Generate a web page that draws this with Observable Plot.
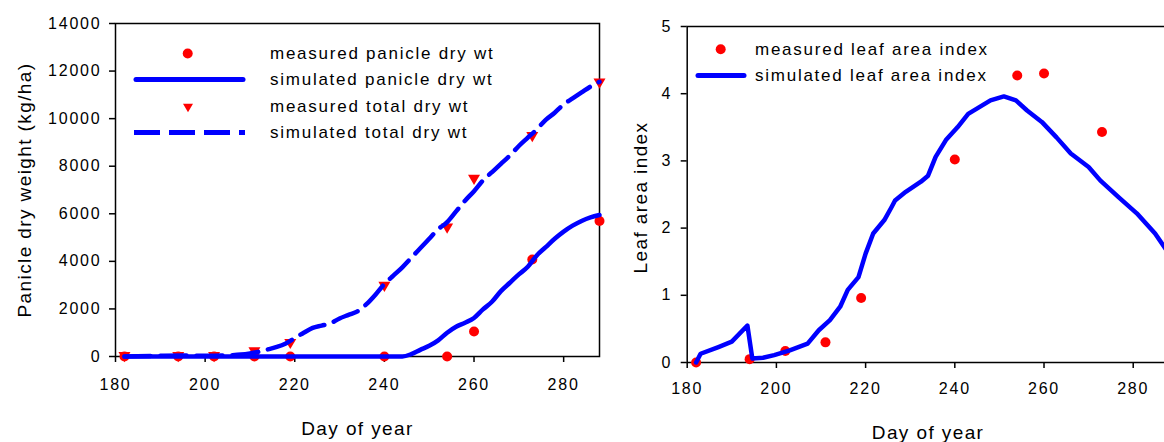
<!DOCTYPE html>
<html>
<head>
<meta charset="utf-8">
<script src="https://cdn.jsdelivr.net/npm/d3@7"></script>
<script src="https://cdn.jsdelivr.net/npm/@observablehq/plot@0.6"></script>
<style>
  html, body { margin: 0; padding: 0; background: #fff; }
  body { width: 1164px; height: 442px; overflow: hidden; position: relative; font-family: "Liberation Sans", Arial, sans-serif; }
  #left, #right, #legend { position: absolute; top: 0; }
  #left { left: 0; width: 620px; }
  #right { left: 600px; width: 580px; }
  #legend { left: 0; pointer-events: none; }
  g[aria-label$="tick label"] { letter-spacing: 1.8px; }
  g[aria-label="text"] { letter-spacing: 1.4px; }
</style>
</head>
<body>
<div id="left"></div>
<div id="right"></div>
<script>
// ---------- data ----------
const sampleDays = [182, 194, 202, 211, 219, 240, 254, 260, 273, 288];
const measuredPanicle = [0, 0, 0, 0, 0, 0, 0, 1050, 4080, 5700];
const measuredTotal = [0, 0, 0, 200, 550, 2950, 5400, 7450, 9250, 11500];
const measuredLAI = [0, 0.05, 0.17, 0.30, 0.96, 3.02, 4.27, 4.30, 3.43, 1.82];

const simPanicleDays = [182, 244, 246, 248, 250, 252, 254, 256, 258, 260, 262, 264, 266, 268, 270, 272, 274, 276, 278, 280, 282, 284, 286, 288];
const simPanicleVals = [0, 0, 100, 280, 450, 680, 1000, 1250, 1420, 1620, 1980, 2300, 2750, 3100, 3450, 3770, 4250, 4600, 4950, 5250, 5500, 5700, 5850, 5950];

const simTotalDays = [182, 190, 195, 200, 205, 208, 210, 212, 214, 216, 218, 220, 222, 224, 226, 228, 230, 232, 234, 236, 238, 240, 242, 244, 246, 248, 250, 252, 254, 256, 258, 260, 262, 264, 266, 268, 270, 272, 274, 276, 278, 280, 282, 284, 286, 288];
const simTotalVals = [0, 30, 40, 30, 50, 80, 130, 200, 300, 400, 550, 780, 1000, 1200, 1300, 1400, 1600, 1750, 1900, 2200, 2600, 3050, 3400, 3750, 4150, 4550, 4950, 5350, 5650, 6100, 6550, 6950, 7400, 7750, 8100, 8450, 8850, 9200, 9550, 9950, 10250, 10600, 10850, 11100, 11350, 11550];

const simLAIDays = [182, 183, 187, 190, 193.5, 194.6, 197, 199.5, 203, 207, 209.5, 212, 214.3, 216, 218.4, 220, 221.7, 224.2, 225.8, 226.6, 229, 232.4, 234, 235.7, 238, 240.6, 243, 245.5, 248, 251, 253.7, 256.2, 259.5, 262.8, 266, 270, 272.6, 276.7, 280.8, 284.9, 288];
const simLAIVals = [0, 0.13, 0.23, 0.31, 0.55, 0.06, 0.07, 0.11, 0.18, 0.28, 0.48, 0.63, 0.83, 1.08, 1.27, 1.62, 1.92, 2.12, 2.31, 2.41, 2.54, 2.69, 2.78, 3.06, 3.31, 3.50, 3.70, 3.80, 3.90, 3.96, 3.90, 3.75, 3.58, 3.35, 3.11, 2.91, 2.71, 2.46, 2.22, 1.92, 1.62];

const xTicks = [180, 200, 220, 240, 260, 280];
const yTicksLeft = [0, 2000, 4000, 6000, 8000, 10000, 12000, 14000];
const yTicksRight = [0, 1, 2, 3, 4, 5];

const xTitle = "Day of year";
const yTitleLeft = "Panicle dry weight (kg/ha)";
const yTitleRight = "Leaf area index";

const legendLeftLabels = ["measured panicle dry wt", "simulated panicle dry wt", "measured total dry wt", "simulated total dry wt"];
const legendRightLabels = ["measured leaf area index", "simulated leaf area index"];

// ---------- helpers ----------
const zip = (xs, ys) => xs.map((x, i) => ({x, y: ys[i]}));
const RED = "#ff0000", BLUE = "#0000ff";

const triangleDown = {
  draw(context, size) {
    const r = Math.sqrt(size / Math.PI);
    context.moveTo(-r, -r * 0.75);
    context.lineTo(r, -r * 0.75);
    context.lineTo(0, r * 0.95);
    context.closePath();
  }
};

const baseStyle = {fontFamily: "'Liberation Sans', Arial, sans-serif", fontSize: "16px", background: "none", color: "black", overflow: "visible", maxWidth: "none"};

// ---------- left chart ----------
const left = Plot.plot({
  width: 620, height: 442,
  marginLeft: 115, marginRight: 21, marginTop: 23, marginBottom: 86,
  style: baseStyle,
  x: {domain: [180, 288]},
  y: {domain: [0, 14000]},
  marks: [
    Plot.frame({stroke: "black", strokeWidth: 1.5}),
    Plot.axisX({ticks: xTicks, tickSize: 6, tickPadding: 16, label: null, strokeWidth: 1.5}),
    Plot.axisY({ticks: yTicksLeft, tickSize: 6, tickPadding: 8, tickFormat: d => String(d), label: null, strokeWidth: 1.5}),
    Plot.dot(zip(sampleDays, measuredPanicle), {x: "x", y: "y", r: 5, fill: RED, stroke: "none"}),
    Plot.dot(zip(sampleDays, measuredTotal), {x: "x", y: "y", r: 6, symbol: triangleDown, fill: RED, stroke: "none"}),
    Plot.line(zip(simPanicleDays, simPanicleVals), {x: "x", y: "y", stroke: BLUE, strokeWidth: 4.5, curve: "monotone-x"}),
    Plot.line(zip(simTotalDays, simTotalVals), {x: "x", y: "y", stroke: BLUE, strokeWidth: 4.5, strokeDasharray: "26,10", curve: "monotone-x"}),
    Plot.text([xTitle], {frameAnchor: "bottom", dy: 72, fontSize: 19, textAnchor: "middle", lineAnchor: "middle"}),
    Plot.text([yTitleLeft], {frameAnchor: "left", dx: -91, rotate: -90, fontSize: 19, textAnchor: "middle", lineAnchor: "middle"})
  ]
});
document.getElementById("left").appendChild(left);

// ---------- right chart ----------
const right = Plot.plot({
  width: 580, height: 442,
  marginLeft: 86.7, marginRight: 11.6, marginTop: 26, marginBottom: 80,
  style: baseStyle,
  x: {domain: [180, 288]},
  y: {domain: [0, 5]},
  marks: [
    Plot.frame({stroke: "black", strokeWidth: 1.5}),
    Plot.axisX({ticks: xTicks, tickSize: 6, tickPadding: 14, label: null, strokeWidth: 1.5}),
    Plot.axisY({ticks: yTicksRight, tickSize: 6, tickPadding: 9, tickFormat: d => String(d), label: null, strokeWidth: 1.5}),
    Plot.dot(zip(sampleDays, measuredLAI), {x: "x", y: "y", r: 5, fill: RED, stroke: "none"}),
    Plot.line(zip(simLAIDays, simLAIVals), {x: "x", y: "y", stroke: BLUE, strokeWidth: 4.5}),
    Plot.text([xTitle], {frameAnchor: "bottom", dy: 70, fontSize: 19, textAnchor: "middle", lineAnchor: "middle"}),
    Plot.text([yTitleRight], {frameAnchor: "left", dx: -46, dy: 3, rotate: -90, fontSize: 19, textAnchor: "middle", lineAnchor: "middle"})
  ]
});
document.getElementById("right").appendChild(right);

// ---------- legends (overlay) ----------
const leg = d3.select("body").append("svg").attr("id", "legend")
  .attr("width", 1164).attr("height", 442)
  .style("font-family", "'Liberation Sans', Arial, sans-serif");

function legendText(x, y, label) {
  leg.append("text").attr("x", x).attr("y", y).attr("dy", "0.35em")
    .attr("font-size", 17).attr("letter-spacing", "1.75px").attr("fill", "black").text(label);
}
// left legend
const lRows = [53.5, 79.5, 106.5, 132.5];
leg.append("circle").attr("cx", 187.7).attr("cy", lRows[0]).attr("r", 5).attr("fill", RED);
leg.append("line").attr("x1", 136).attr("x2", 243).attr("y1", lRows[1]).attr("y2", lRows[1])
  .attr("stroke", BLUE).attr("stroke-width", 5).attr("stroke-linecap", "round");
leg.append("path").attr("transform", `translate(188,${lRows[2] + 1})`)
  .attr("d", d3.symbol(triangleDown, 5 * 5 * Math.PI)()).attr("fill", RED);
leg.append("line").attr("x1", 134).attr("x2", 245).attr("y1", lRows[3]).attr("y2", lRows[3])
  .attr("stroke", BLUE).attr("stroke-width", 5).attr("stroke-dasharray", "26,9");
legendLeftLabels.forEach((t, i) => legendText(270, lRows[i], t));

// right legend
const rRows = [49.3, 75.5];
leg.append("circle").attr("cx", 720.7).attr("cy", rRows[0]).attr("r", 5).attr("fill", RED);
leg.append("line").attr("x1", 698).attr("x2", 744).attr("y1", rRows[1]).attr("y2", rRows[1])
  .attr("stroke", BLUE).attr("stroke-width", 5).attr("stroke-linecap", "round");
legendRightLabels.forEach((t, i) => legendText(755, rRows[i], t));
</script>
</body>
</html>
